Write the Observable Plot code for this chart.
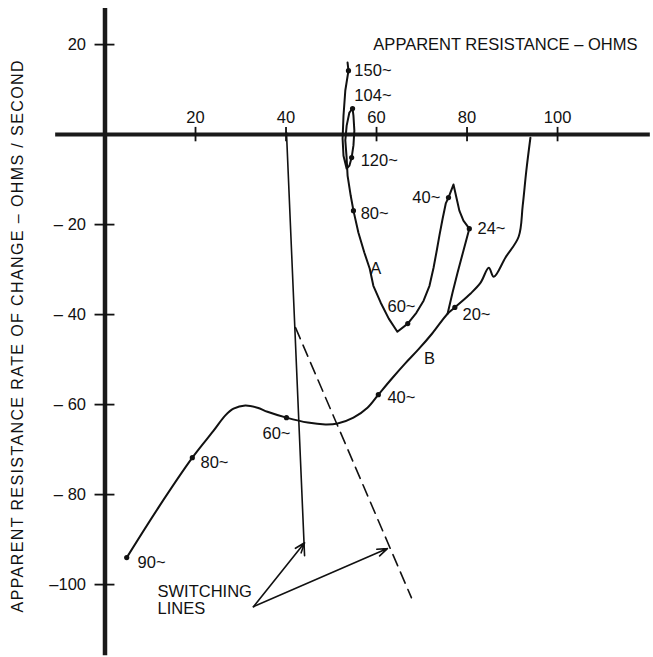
<!DOCTYPE html>
<html>
<head>
<meta charset="utf-8">
<script src="https://cdn.jsdelivr.net/npm/d3@7"></script>
<script src="https://cdn.jsdelivr.net/npm/@observablehq/plot@0.6"></script>
<style>
  html, body { margin: 0; padding: 0; background: #fff; }
  #chart svg { display: block; }
  #chart text { font-family: "Liberation Sans", Arial, Helvetica, sans-serif; }
</style>
</head>
<body>
<div id="chart"></div>
<script>
// ---- data (apparent resistance in ohms, rate of change in ohms/second) ----
const xTicks = [20, 40, 60, 80, 100];
const yTicks = [20, -20, -40, -60, -80, -100];
const yTickLabels = ["20", "– 20", "– 40", "– 60", "– 80", "–100"];

const xTitle = "APPARENT RESISTANCE – OHMS";
const yTitle = "APPARENT RESISTANCE RATE OF CHANGE – OHMS / SECOND";

// curve A (150 ~ down to 20 ~)
const curveA = [
  [53.6, 16.0], [53.8, 14.2], [53.1, 9.8], [52.7, 4.2], [52.5, -0.9], [52.7, -4.7],
  [53.4, -7.6], [54.0, -6.9], [54.5, -5.1], [54.9, -2.4], [55.1, 0.9], [54.9, 4.2],
  [54.7, 5.8], [54.0, 4.9], [53.4, 2.0], [53.1, -1.3], [53.4, -5.3], [53.6, -9.1],
  [54.3, -13.6], [54.9, -16.9], [56.0, -21.8], [57.3, -26.2], [58.5, -29.8],
  [59.3, -33.6], [60.9, -37.3], [62.7, -40.9], [64.6, -43.8], [66.9, -42.0],
  [68.8, -39.6], [70.4, -36.9], [71.7, -33.6], [72.6, -29.6], [73.3, -25.8],
  [73.9, -22.4], [74.6, -18.7], [75.3, -15.3], [75.9, -14.0], [77.0, -11.1],
  [77.7, -14.2], [78.3, -16.9], [79.2, -19.1], [80.5, -20.9], [79.2, -25.8],
  [77.9, -30.7], [76.8, -35.1], [75.7, -39.8]
];

// curve B (90 ~ up to the resistance axis)
const curveB = [
  [4.8, -94.0], [11.8, -82.9], [19.3, -71.8], [24.0, -65.8], [26.6, -62.4],
  [28.4, -60.9], [31.0, -60.2], [33.7, -60.7], [35.9, -61.6], [40.1, -62.9],
  [44.8, -64.0], [48.7, -64.4], [51.4, -64.2], [54.9, -62.9], [58.0, -60.7],
  [60.4, -57.8], [63.4, -54.2], [66.3, -50.9], [69.2, -47.8], [72.3, -44.2],
  [75.7, -39.8], [77.3, -38.4], [80.8, -35.3], [83.0, -32.9], [84.8, -29.6],
  [85.9, -31.6], [88.5, -27.3], [91.4, -22.7], [92.3, -15.8], [93.1, -8.0],
  [94.0, -0.7]
];

// marked frequencies
const freqPoints = [
  [53.8, 14.2], [54.7, 5.8], [54.5, -5.1], [54.9, -16.9], [66.9, -42.0],
  [75.9, -14.0], [80.5, -20.9], [77.3, -38.4], [60.4, -57.8], [40.1, -62.9],
  [19.3, -71.8], [4.8, -94.0]
];

// labels: text, anchor x, anchor y, text anchor
const labelText   = ["150~", "104~", "120~", "80~", "A", "40~", "24~", "60~", "20~", "B", "40~", "60~", "80~", "90~"];
const labelX      = [55.1, 55.1, 56.5, 56.5, 59.8, 74.1, 82.3, 68.6, 79.0, 71.7, 62.4, 34.8, 21.1, 7.2];
const labelY      = [14.2, 8.6, -5.8, -17.6, -29.8, -14.0, -20.9, -38.2, -40.0, -49.8, -58.4, -66.4, -72.9, -95.1];
const labelAnchor = ["start", "start", "start", "start", "middle", "end", "start", "end", "start", "middle", "start", "start", "start", "start"];

// switching lines
const solidSwitch  = [[40.1, 0.5], [44.1, -93.6]];
const dashedSwitch = [[42.1, -42.9], [67.7, -102.9]];
const arrowFrom = [32.8, -104.9];
const arrowTo   = [[44.1, -90.7], [62.4, -92.0]];
const switchText = ["SWITCHING", "LINES"];
const switchTextPos = [[11.6, -101.6], [11.6, -105.4]];

// ---- build tables ----
const labels = labelText.map((t, i) => ({t, x: labelX[i], y: labelY[i], a: labelAnchor[i]}));
const arrows = arrowTo.map(([x2, y2]) => ({x1: arrowFrom[0], y1: arrowFrom[1], x2, y2}));
const yLab = yTicks.map((v, i) => ({v, t: yTickLabels[i]}));
const swText = switchText.map((t, i) => ({t, x: switchTextPos[i][0], y: switchTextPos[i][1]}));

const font = '"Liberation Sans", Arial, Helvetica, sans-serif';
const ink = "#111";

const labelMarks = ["start", "middle", "end"].map(a =>
  Plot.text(labels.filter(d => d.a === a), {x: "x", y: "y", text: "t", textAnchor: a, fontSize: 16.5, fill: ink})
);

const chart = Plot.plot({
  width: 653,
  height: 657,
  marginTop: 0, marginRight: 0, marginBottom: 0, marginLeft: 0,
  x: {domain: [-23.09, 121.2], axis: null},
  y: {domain: [-116.2, 29.8], axis: null},
  style: {background: "#fff", fontFamily: font, color: ink},
  marks: [
    // axes
    Plot.ruleY([0], {x1: -10.9, x2: 120.5, stroke: "#1a1a1a", strokeWidth: 4}),
    Plot.ruleX([0], {y1: -115.8, y2: 28, stroke: "#1a1a1a", strokeWidth: 4.5}),
    Plot.ruleX(xTicks, {x: d => d, y1: -1.6, y2: 1.6, stroke: ink, strokeWidth: 1.8}),
    Plot.ruleY(yTicks, {y: d => d, x1: -2.2, x2: 2.2, stroke: ink, strokeWidth: 1.8}),
    Plot.text(xTicks, {x: d => d, y: 0, text: d => String(d), dy: -17, fontSize: 16.5, fill: ink}),
    Plot.text(yLab, {x: 0, y: "v", text: "t", textAnchor: "end", dx: -19, fontSize: 16.5, fill: ink}),
    // titles
    Plot.text([xTitle], {x: 59.3, y: 20.0, text: d => d, textAnchor: "start", fontSize: 16.5, fill: ink}),
    Plot.text([yTitle], {x: -19.3, y: -44.7, text: d => d, rotate: -90, fontSize: 16, fill: ink}),
    // switching lines
    Plot.line(solidSwitch, {x: d => d[0], y: d => d[1], stroke: ink, strokeWidth: 1.6}),
    Plot.line(dashedSwitch, {x: d => d[0], y: d => d[1], stroke: ink, strokeWidth: 1.6, strokeDasharray: "12,7"}),
    Plot.arrow(arrows, {x1: "x1", y1: "y1", x2: "x2", y2: "y2", stroke: ink, strokeWidth: 1.6, headLength: 10, headAngle: 40}),
    Plot.text(swText, {x: "x", y: "y", text: "t", textAnchor: "start", fontSize: 16.5, fill: ink}),
    // curves
    Plot.line(curveA, {x: d => d[0], y: d => d[1], stroke: ink, strokeWidth: 2, strokeLinejoin: "round"}),
    Plot.line(curveB, {x: d => d[0], y: d => d[1], stroke: ink, strokeWidth: 2, strokeLinejoin: "round", curve: "catmull-rom"}),
    Plot.dot(freqPoints, {x: d => d[0], y: d => d[1], r: 2.6, fill: ink, stroke: "none"}),
    ...labelMarks
  ]
});

// widen the letter spacing of the vertical title to match the drafted lettering
d3.select(chart).selectAll("text").filter(function() { return this.textContent === yTitle; })
  .style("letter-spacing", "1.4px");

document.getElementById("chart").appendChild(chart);
</script>
</body>
</html>
